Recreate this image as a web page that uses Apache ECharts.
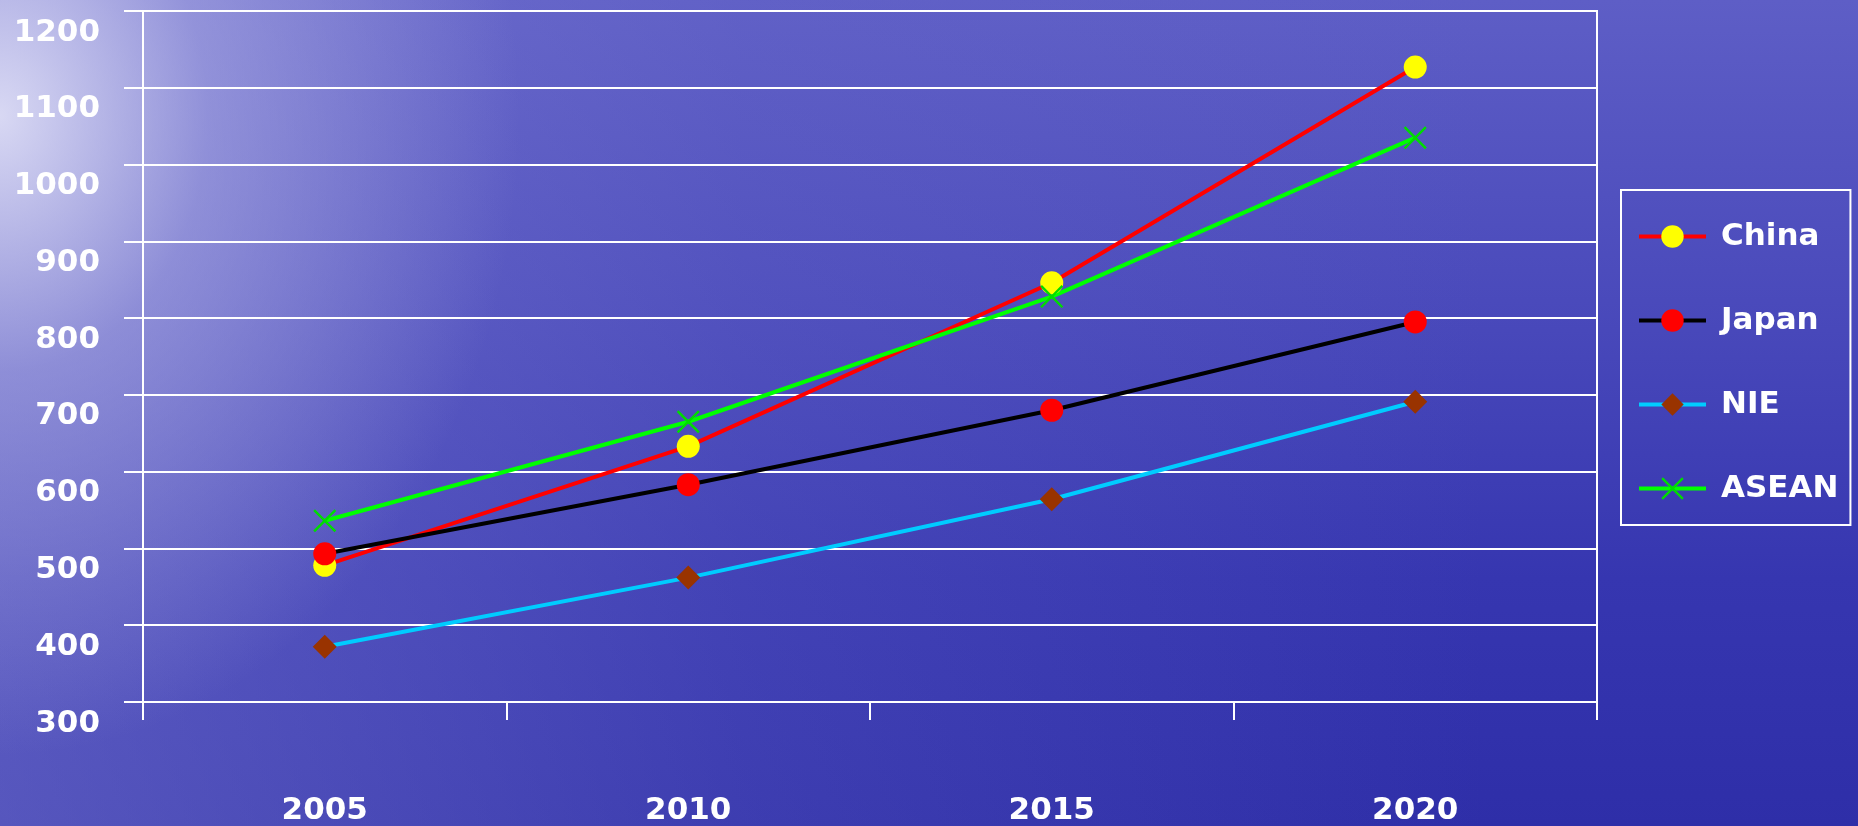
<!DOCTYPE html>
<html>
<head>
<meta charset="utf-8">
<script src="https://cdn.jsdelivr.net/npm/echarts@6/dist/echarts.min.js"></script>
<style>
  html, body { margin: 0; padding: 0; }
  body {
    width: 1858px; height: 826px; overflow: hidden;
    background:
      radial-gradient(ellipse 520px 640px at 0% 14%, rgba(235,235,250,0.85) 0%, rgba(185,185,232,0.5) 40%, rgba(150,150,220,0) 100%),
      linear-gradient(to right, rgba(135,135,215,0.45) 0%, rgba(105,105,200,0.25) 40%, rgba(80,80,190,0) 80%),
      linear-gradient(180deg, #5e5ec6 0%, #4848ba 40%, #3636b0 70%, #2e2ea8 100%);
  }
  #main { width: 1858px; height: 826px; }
</style>
</head>
<body>
<div id="main"></div>
<script>
var years = ['2005', '2010', '2015', '2020'];
var china = [478, 633, 846, 1127];
var japan = [493, 583, 680, 795];
var nie = [372, 462, 564, 691];
var asean = [536, 665, 828, 1035];

var crossPath = 'path://M0,1.5L1.5,0L10,8.5L18.5,0L20,1.5L11.5,10L20,18.5L18.5,20L10,11.5L1.5,20L0,18.5L8.5,10Z';
var fontFam = '"DejaVu Sans", Verdana, sans-serif';

var myChart = echarts.init(document.getElementById('main'));

myChart.setOption({
    backgroundColor: 'transparent',
    animation: false,
    grid: {
        left: 143,
        right: 261,
        top: 11,
        bottom: 124,
        show: true,
        borderColor: '#ffffff',
        borderWidth: 2,
        backgroundColor: 'transparent'
    },
    legend: {
        orient: 'vertical',
        left: 1621,
        top: 190,
        padding: [31, 12, 21, 16],
        itemWidth: 67,
        itemHeight: 28,
        itemGap: 53,
        borderColor: '#ffffff',
        borderWidth: 2,
        lineStyle: { width: 4 },
        textStyle: {
            color: '#ffffff',
            fontSize: 31,
            fontWeight: 'bold',
            fontFamily: fontFam,
            padding: [0, 0, 0, 10]
        },
        data: ['China', 'Japan', 'NIE', 'ASEAN']
    },
    xAxis: {
        type: 'category',
        data: years,
        boundaryGap: true,
        axisLine: { lineStyle: { color: '#ffffff', width: 2 } },
        axisTick: { show: true, length: 18, lineStyle: { color: '#ffffff', width: 2 } },
        axisLabel: {
            margin: 93,
            color: '#ffffff',
            fontSize: 31,
            fontWeight: 'bold',
            fontFamily: fontFam
        },
        splitLine: { show: false }
    },
    yAxis: {
        type: 'value',
        min: 300,
        max: 1200,
        interval: 100,
        axisLine: { show: true, lineStyle: { color: '#ffffff', width: 2 } },
        axisTick: { show: true, length: 19, lineStyle: { color: '#ffffff', width: 2 } },
        axisLabel: {
            margin: 43,
            color: '#ffffff',
            fontSize: 31,
            fontWeight: 'bold',
            fontFamily: fontFam,
            verticalAlign: 'top',
            padding: [6, 0, 0, 0],
            formatter: function (v) { return String(v); }
        },
        splitLine: { show: true, lineStyle: { color: '#ffffff', width: 2 } }
    },
    series: [
        {
            name: 'China',
            type: 'line',
            data: china,
            symbol: 'circle',
            symbolSize: 23,
            lineStyle: { color: '#ff0000', width: 4 },
            itemStyle: { color: '#ffff00' }
        },
        {
            name: 'Japan',
            type: 'line',
            data: japan,
            symbol: 'circle',
            symbolSize: 23,
            lineStyle: { color: '#000000', width: 4 },
            itemStyle: { color: '#ff0000' }
        },
        {
            name: 'NIE',
            type: 'line',
            data: nie,
            symbol: 'diamond',
            symbolSize: 24,
            lineStyle: { color: '#00ccff', width: 4 },
            itemStyle: { color: '#993300' }
        },
        {
            name: 'ASEAN',
            type: 'line',
            data: asean,
            symbol: crossPath,
            symbolSize: 23,
            lineStyle: { color: '#00ff00', width: 4 },
            itemStyle: { color: '#00dd00' }
        }
    ]
});
</script>
</body>
</html>
